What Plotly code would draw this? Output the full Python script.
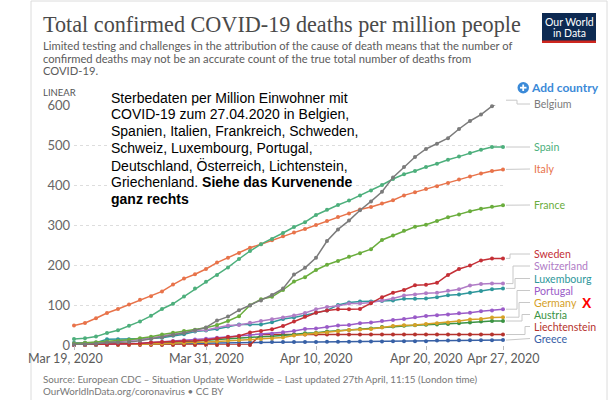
import datetime as dt
import plotly.graph_objects as go

# ---------------- data ----------------
start = dt.date(2020, 3, 19)
dates = [start + dt.timedelta(days=i) for i in range(40)]

tick_dates = [dt.date(2020, 3, 19), dt.date(2020, 3, 31), dt.date(2020, 4, 10),
              dt.date(2020, 4, 20), dt.date(2020, 4, 27)]
tick_labels = ["Mar 19, 2020", "Mar 31, 2020", "Apr 10, 2020", "Apr 20, 2020", "Apr 27, 2020"]
y_ticks = [0, 100, 200, 300, 400, 500, 600]

belgium = [1.2, 2, 3, 6, 6.5, 7.6, 10.5, 15, 19, 25, 30, 37, 44, 61, 71, 87, 99, 111, 125, 141,
           176, 193, 218, 260, 289, 311, 337, 359, 383, 419, 445, 470, 490, 503, 517, 540, 560, 576, 597, 612]
spain = [15, 17, 21, 30, 37, 48, 59, 73, 90, 103, 121, 141, 158, 175, 194, 215, 235, 252, 265, 280,
         295, 307, 325, 338, 350, 361, 374, 386, 400, 415, 427, 435, 445, 453, 463, 471, 480, 488, 495, 495]
italy = [49, 55, 67, 80, 90, 101, 113, 122, 134, 151, 166, 177, 190, 206, 218, 230, 243, 252, 262, 272,
         281, 290, 300, 310, 320, 329, 339, 345, 354, 362, 374, 382, 390, 397, 405, 414, 421, 429, 435, 439]
france = [4, 5.7, 6.9, 8.6, 10.3, 13.2, 16.9, 20.4, 26, 30.6, 35, 38, 43, 50, 60, 72, 99.5, 114.5, 120.5, 137.5,
          158.5, 169.5, 187.5, 200.5, 210, 220.5, 229.5, 239.5, 262.5, 273.5, 285.5, 295.5, 300.5, 310, 319.5,
          326.5, 334.5, 340.5, 345.5, 349.5]
sweden = [0.7, 1, 1.6, 2, 2.1, 2.5, 3.6, 6, 7.6, 9, 10, 10.5, 12.5, 16.5, 20, 22.5, 31.5, 35, 39.5, 47.5,
          58.5, 70.5, 80.5, 86.5, 89.5, 89.5, 90, 104.5, 119.5, 130.5, 137.5, 149.5, 150.5, 155.5, 175, 190,
          198.5, 211.5, 216.5, 216.5]
switzerland = [4, 5, 6, 7, 9, 11, 14, 17, 22.5, 26.5, 31.5, 35.5, 37.5, 43.5, 48.5, 50, 55.5, 60, 64.5, 68.5,
               73.5, 80, 89.5, 95, 97.5, 103.5, 103.5, 106.5, 111.5, 116.5, 123.5, 126.5, 129.5, 130.5, 135.5,
               139.5, 148.5, 152.5, 153.5, 153.5]
luxembourg = [5.5, 5.5, 5.5, 14.5, 14.5, 14.5, 14.5, 16, 18, 23, 27, 34, 36, 40, 46, 51, 51, 51, 57, 65,
              68.5, 75, 80.5, 86.5, 100, 106.5, 108.5, 108.5, 110, 111.5, 115.5, 115.5, 116.5, 119.5, 124.5,
              126.5, 130.5, 135, 139.5, 141.5]
portugal = [0.3, 0.6, 1.2, 1.4, 2.3, 3.2, 4.2, 5.9, 7.5, 9.8, 11.7, 13.7, 15.7, 18.3, 20.5, 23, 25, 26, 28, 32,
            35, 40, 41.5, 45, 48.5, 50, 54.5, 56.5, 60, 62.5, 65, 69.5, 72.5, 74.5, 76.5, 79.5, 80.5, 84.5,
            86.5, 89.5]
germany = [0.3, 0.3, 0.5, 0.8, 1, 1.5, 1.9, 2.5, 3.2, 4.1, 5.2, 6.4, 7.7, 9, 10.5, 12, 13.5, 15, 16.5, 18.5,
           23.5, 26.5, 29.5, 31.5, 34.5, 37.5, 38.5, 40, 43.5, 47.5, 49.5, 50, 52.5, 54.5, 56.5, 60, 63.5,
           65, 68.5, 69.5]
austria = [0.4, 0.6, 0.8, 1, 1.8, 2.3, 3.1, 3.5, 5.4, 6.4, 7.6, 9.6, 12, 14, 16, 17.5, 19, 20.5, 22, 23.5,
           26.5, 29.5, 30.5, 33.5, 35.5, 37.5, 40, 41.5, 45, 46.5, 48, 49.5, 50.5, 51.5, 52.5, 54.5, 56.5,
           58.5, 60, 60]
liechtenstein = [0, 0, 0, 0, 0, 0, 0, 0, 0, 0, 0, 0, 0, 0, 0, 0, 0, 26.2, 26.2, 26.2,
                 26.2, 26.2, 26.2, 26.2, 26.2, 26.2, 26.2, 26.2, 26.2, 26.2, 26.2, 26.2, 26.2, 26.2, 26.2,
                 26.2, 26.2, 26.2, 26.2, 26.2]
greece = [0.5, 0.6, 1.2, 1.4, 1.6, 1.9, 2.1, 2.5, 2.7, 3.1, 3.6, 4.1, 4.7, 4.8, 5.1, 6, 6.5, 7, 7.2, 7.3,
          7.5, 7.7, 7.8, 8, 8.1, 8.3, 8.5, 8.7, 8.9, 9.1, 9.3, 9.5, 9.6, 11.1, 11.4, 11.6, 11.8, 12, 12.1, 12.2]

countries = ["Greece", "Liechtenstein", "Austria", "Germany", "Portugal", "Luxembourg",
             "Switzerland", "Sweden", "France", "Italy", "Spain", "Belgium"]
series = {"Belgium": belgium, "Spain": spain, "Italy": italy, "France": france, "Sweden": sweden,
          "Switzerland": switzerland, "Luxembourg": luxembourg, "Portugal": portugal,
          "Germany": germany, "Austria": austria, "Liechtenstein": liechtenstein, "Greece": greece}

note_lines = ["Sterbedaten per Million Einwohner mit",
              "COVID-19 zum 27.04.2020 in Belgien,",
              "Spanien, Italien, Frankreich, Schweden,",
              "Schweiz, Luxembourg, Portugal,",
              "Deutschland, Österreich, Lichtenstein,",
              "Griechenland. <b>Siehe das Kurvenende</b>",
              "<b>ganz rechts</b>"]

# ---------------- styling ----------------
colors = {"Belgium": "#7b7b7b", "Spain": "#4daf7c", "Italy": "#e8734a", "France": "#6aad3d",
          "Sweden": "#c42f36", "Switzerland": "#b07cc6", "Luxembourg": "#2e979b", "Portugal": "#9a5bc8",
          "Germany": "#d6a127", "Austria": "#3a9343", "Liechtenstein": "#b5322d", "Greece": "#3760a6"}

W, H = 610, 400
L, R, T, B = 74, 107, 105, 55
PW, PH = W - L - R, H - T - B
YMAX = 600


def px(x):
    return (x - L) / PW


def py(y):
    return (H - B - y) / PH


def vpaper(v):  # data value -> paper y
    return v / YMAX


def dpaper(d):  # date -> paper x
    return (d - dates[0]).days / (dates[-1] - dates[0]).days


# label pixel positions (layout) and elbow x for connectors
label_py = {"Belgium": 104, "Spain": 147, "Italy": 169, "France": 205, "Sweden": 254,
            "Switzerland": 266, "Luxembourg": 278.5, "Portugal": 290.5, "Germany": 302.5,
            "Austria": 314.5, "Liechtenstein": 326.5, "Greece": 338.5}
elbow_px = {"Belgium": 517, "Sweden": 510, "Switzerland": 513, "Luxembourg": 515, "Portugal": 517,
            "Germany": 519, "Austria": 522, "Liechtenstein": 525}

fig = go.Figure()
for c in countries:
    fig.add_trace(go.Scatter(x=dates, y=series[c], mode="lines+markers", name=c,
                             line=dict(color=colors[c], width=1.5),
                             marker=dict(color=colors[c], size=4),
                             cliponaxis=False, showlegend=False))

shapes = []
annotations = []

# card border
shapes.append(dict(type="rect", xref="paper", yref="paper", x0=px(31), x1=px(607), y0=py(420), y1=py(1),
                   line=dict(color="#dcdcdc", width=1), fillcolor="rgba(0,0,0,0)", layer="below"))

for c in countries:
    end = vpaper(series[c][-1])
    ly = py(label_py[c])
    if c in elbow_px:
        ex = px(elbow_px[c])
        path = f"M {px(506)},{end} L {ex},{end} L {ex},{ly} L {px(530)},{ly}"
    else:
        path = f"M {px(506)},{end} L {px(530)},{ly}"
    shapes.append(dict(type="path", xref="paper", yref="paper", path=path,
                       line=dict(color="#c8c8c8", width=1)))
    annotations.append(dict(xref="paper", yref="paper", x=px(532), y=ly, text=c, showarrow=False,
                            xanchor="left", yanchor="middle",
                            font=dict(family="Lato", size=10.6, color=colors[c])))

# red X next to Germany
annotations.append(dict(xref="paper", yref="paper", x=px(580), y=py(label_py["Germany"]), text="<b>X</b>",
                        showarrow=False, xanchor="left", yanchor="middle",
                        font=dict(family="Liberation Sans", size=14, color="#ff0000")))

# x tick labels (first label pulled inside the card like the original)
for i, (d, t) in enumerate(zip(tick_dates, tick_labels)):
    annotations.append(dict(xref="paper", yref="paper", x=dpaper(d), y=py(358), text=t, showarrow=False,
                            xanchor="center", yanchor="middle", xshift=-9 if i == 0 else 0,
                            font=dict(family="Lato", size=12.5, color="#5b5b5b")))

# title and subtitle
annotations.append(dict(xref="paper", yref="paper", x=px(41), y=py(24),
                        text="Total confirmed COVID-19 deaths per million people",
                        showarrow=False, xanchor="left", yanchor="middle",
                        font=dict(family="Liberation Serif", size=22.2, color="#4a4a4a")))
sub = ["Limited testing and challenges in the attribution of the cause of death means that the number of",
       "confirmed deaths may not be an accurate count of the true total number of deaths from",
       "COVID-19."]
for i, s in enumerate(sub):
    annotations.append(dict(xref="paper", yref="paper", x=px(41), y=py(45.5 + 12.5 * i), text=s,
                            showarrow=False, xanchor="left", yanchor="middle",
                            font=dict(family="Lato", size=11.2, color="#5b5b5b")))

annotations.append(dict(xref="paper", yref="paper", x=px(41), y=py(92), text="LINEAR", showarrow=False,
                        xanchor="left", yanchor="middle", font=dict(family="Lato", size=9.5, color="#555")))

# Add country
shapes.append(dict(type="circle", xref="paper", yref="paper", x0=px(517.5), x1=px(529), y0=py(82), y1=py(93.5),
                   fillcolor="#3b8ad8", line=dict(width=0)))
shapes.append(dict(type="line", xref="paper", yref="paper", x0=px(520), x1=px(526.5), y0=py(87.7), y1=py(87.7),
                   line=dict(color="white", width=1.8)))
shapes.append(dict(type="line", xref="paper", yref="paper", x0=px(523.2), x1=px(523.2), y0=py(84.5), y1=py(91),
                   line=dict(color="white", width=1.8)))
annotations.append(dict(xref="paper", yref="paper", x=px(529), y=py(87.7), text="<b>Add country</b>",
                        showarrow=False, xanchor="left", yanchor="middle",
                        font=dict(family="Lato", size=12, color="#3b8ad8")))

# OWID logo
shapes.append(dict(type="rect", xref="paper", yref="paper", x0=px(542), x1=px(596), y0=py(43), y1=py(13),
                   fillcolor="#0d2a52", line=dict(width=0)))
shapes.append(dict(type="rect", xref="paper", yref="paper", x0=px(542), x1=px(596), y0=py(43), y1=py(40.5),
                   fillcolor="#ce261e", line=dict(width=0)))
annotations.append(dict(xref="paper", yref="paper", x=px(569), y=py(21.5), text="Our World", showarrow=False,
                        xanchor="center", yanchor="middle", font=dict(family="Lato", size=10.5, color="white")))
annotations.append(dict(xref="paper", yref="paper", x=px(569), y=py(33), text="in Data", showarrow=False,
                        xanchor="center", yanchor="middle", font=dict(family="Lato", size=10.5, color="white")))

# footer
annotations.append(dict(xref="paper", yref="paper", x=px(41), y=py(379),
                        text="Source: European CDC – Situation Update Worldwide – Last updated 27th April, 11:15 (London time)",
                        showarrow=False, xanchor="left", yanchor="middle",
                        font=dict(family="Lato", size=9.8, color="#777")))
annotations.append(dict(xref="paper", yref="paper", x=px(41), y=py(391),
                        text="OurWorldInData.org/coronavirus • CC BY",
                        showarrow=False, xanchor="left", yanchor="middle",
                        font=dict(family="Lato", size=9.8, color="#777")))

# German note, one line per annotation with white backing
for i, s in enumerate(note_lines):
    annotations.append(dict(xref="paper", yref="paper", x=px(110), y=py(97.5 + 16.9 * i), text=s,
                            showarrow=False, xanchor="left", yanchor="middle", bgcolor="white", borderpad=0,
                            font=dict(family="Liberation Sans", size=14, color="black")))

fig.update_layout(
    width=W, height=H, margin=dict(l=L, r=R, t=T, b=B),
    paper_bgcolor="white", plot_bgcolor="white",
    shapes=shapes, annotations=annotations, showlegend=False,
    xaxis=dict(range=[dates[0], dates[-1]], tickvals=tick_dates, showticklabels=False,
               showgrid=False, zeroline=False, showline=False, ticks="outside", ticklen=4,
               tickcolor="#bbbbbb"),
    yaxis=dict(range=[0, YMAX], tickvals=y_ticks, showgrid=True, gridcolor="#dddddd",
               griddash="3px,3px", zeroline=False, showline=False, ticks="",
               tickfont=dict(family="Lato", size=13, color="#666"), ticklabelstandoff=3),
)

fig.write_html("out.html", config={"displayModeBar": False},
               post_script="document.body.style.margin='0';document.body.style.overflow='hidden';")
